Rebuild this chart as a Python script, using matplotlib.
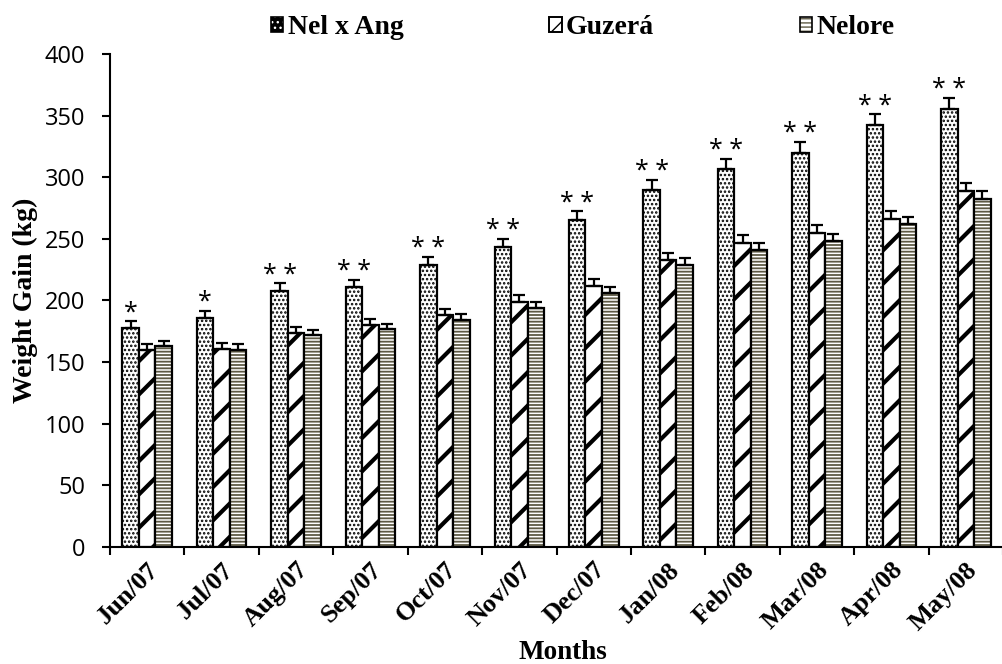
import matplotlib
matplotlib.use("Agg")
import matplotlib.pyplot as plt
from matplotlib.patches import Patch
import numpy as np

months = ["Jun/07", "Jul/07", "Aug/07", "Sep/07", "Oct/07", "Nov/07",
          "Dec/07", "Jan/08", "Feb/08", "Mar/08", "Apr/08", "May/08"]
series_names = ["Nel x Ang", "Guzerá", "Nelore"]
nel_ang = [178, 186, 208, 211, 229, 243, 265, 290, 307, 320, 342, 355]
guzera = [160, 161, 174, 180, 188, 199, 212, 233, 247, 255, 266, 289]
nelore = [163, 160, 172, 177, 184, 194, 206, 229, 241, 248, 262, 282]
nel_ang_err = [5.4, 5.7, 5.9, 6.0, 6.5, 7.0, 7.3, 7.8, 7.9, 8.6, 9.0, 9.5]
guzera_err = [4.3, 4.3, 4.6, 4.6, 5.4, 5.4, 5.4, 5.7, 6.0, 6.2, 6.5, 6.7]
nelore_err = [4.0, 4.3, 4.0, 4.3, 4.9, 4.9, 5.1, 5.4, 5.4, 5.6, 5.8, 6.7]
signif = ["*", "*", "**", "**", "**", "**", "**", "**", "**", "**", "**", "**"]
yticks = [0, 50, 100, 150, 200, 250, 300, 350, 400]

serif = "Liberation Serif"
sans = "Open Sans"

fig = plt.figure(figsize=(10.03, 6.64), dpi=100)
ax = fig.add_axes([0.1097, 0.1762, 0.8903, 0.7425])

x = np.arange(len(months))
w = 0.222
olive = "#5e5a45"

with plt.rc_context({"hatch.linewidth": 1.2, "hatch.color": "black"}):
    ax.bar(x - w, nel_ang, w, color="white", edgecolor="black",
           hatch="....", linewidth=1.6, zorder=2)
with plt.rc_context({"hatch.linewidth": 3.0, "hatch.color": "black"}):
    ax.bar(x, guzera, w, color="white", edgecolor="black",
           hatch="/", linewidth=1.6, zorder=2)
with plt.rc_context({"hatch.linewidth": 1.3, "hatch.color": olive}):
    ax.bar(x + w, nelore, w, color="white", edgecolor=olive,
           hatch="-----", linewidth=0, zorder=2)
ax.bar(x + w, nelore, w, fill=False, edgecolor="black", linewidth=1.6, zorder=3)

for off, vals, errs in [(-w, nel_ang, nel_ang_err), (0, guzera, guzera_err),
                        (w, nelore, nelore_err)]:
    ax.errorbar(x + off, vals, yerr=[np.zeros(len(errs)), errs], fmt="none",
                ecolor="black", elinewidth=1.6, capsize=4, capthick=1.6, zorder=4)

for i, s in enumerate(signif):
    lab = "* *" if s == "**" else "*"
    ax.annotate(lab, (x[i] - w, nel_ang[i] + nel_ang_err[i]), xytext=(0, -3),
                textcoords="offset points", ha="center", va="bottom",
                fontsize=18, family=sans, zorder=5)

ax.set_ylim(0, 400)
ax.set_xlim(-0.5, 11.375)
ax.set_yticks(yticks)
ax.set_yticklabels([str(v) for v in yticks], family=sans, fontsize=17)
ax.set_xticks(np.arange(len(months) + 1) - 0.5)
ax.set_xticklabels([])
ax.set_xticks(x, minor=True)
ax.set_xticklabels(months, minor=True, rotation=45, ha="right",
                   rotation_mode="anchor", family=serif, fontweight="bold",
                   fontsize=19)
ax.tick_params(axis="x", which="minor", length=0, pad=8)
ax.tick_params(axis="x", which="major", length=6, width=1.5, direction="out")
ax.tick_params(axis="y", length=6, width=1.5, direction="out", pad=12)
for sp in ["top", "right"]:
    ax.spines[sp].set_visible(False)
for sp in ["left", "bottom"]:
    ax.spines[sp].set_linewidth(1.5)

ax.set_ylabel("Weight Gain (kg)", family=serif, fontweight="bold", fontsize=20)
ax.yaxis.set_label_coords(-0.081, 0.5)
fig.text(0.561, 0.018, "Months", family=serif, fontweight="bold", fontsize=19.5,
         ha="center", va="center")

# legend icons
with plt.rc_context({"hatch.linewidth": 1.5}):
    h1 = (Patch(facecolor="black", edgecolor="white", hatch="...", linewidth=0),
          Patch(fill=False, edgecolor="black", linewidth=1.2))
with plt.rc_context({"hatch.linewidth": 3.0}):
    h2 = (Patch(facecolor="white", edgecolor="black", hatch="//", linewidth=0),
          Patch(fill=False, edgecolor="black", linewidth=1.4))
with plt.rc_context({"hatch.linewidth": 1.0}):
    h3 = (Patch(facecolor="white", edgecolor=olive, hatch="----", linewidth=0),
          Patch(fill=False, edgecolor="black", linewidth=1.2))
fig.legend([h1, h2, h3], series_names, loc="center", ncol=3,
           bbox_to_anchor=(0.581, 0.958), frameon=False,
           prop={"family": serif, "weight": "bold", "size": 20},
           handlelength=0.45, handleheight=0.45, handletextpad=0.15,
           columnspacing=5.25)

fig.savefig("out.png", dpi=100)
